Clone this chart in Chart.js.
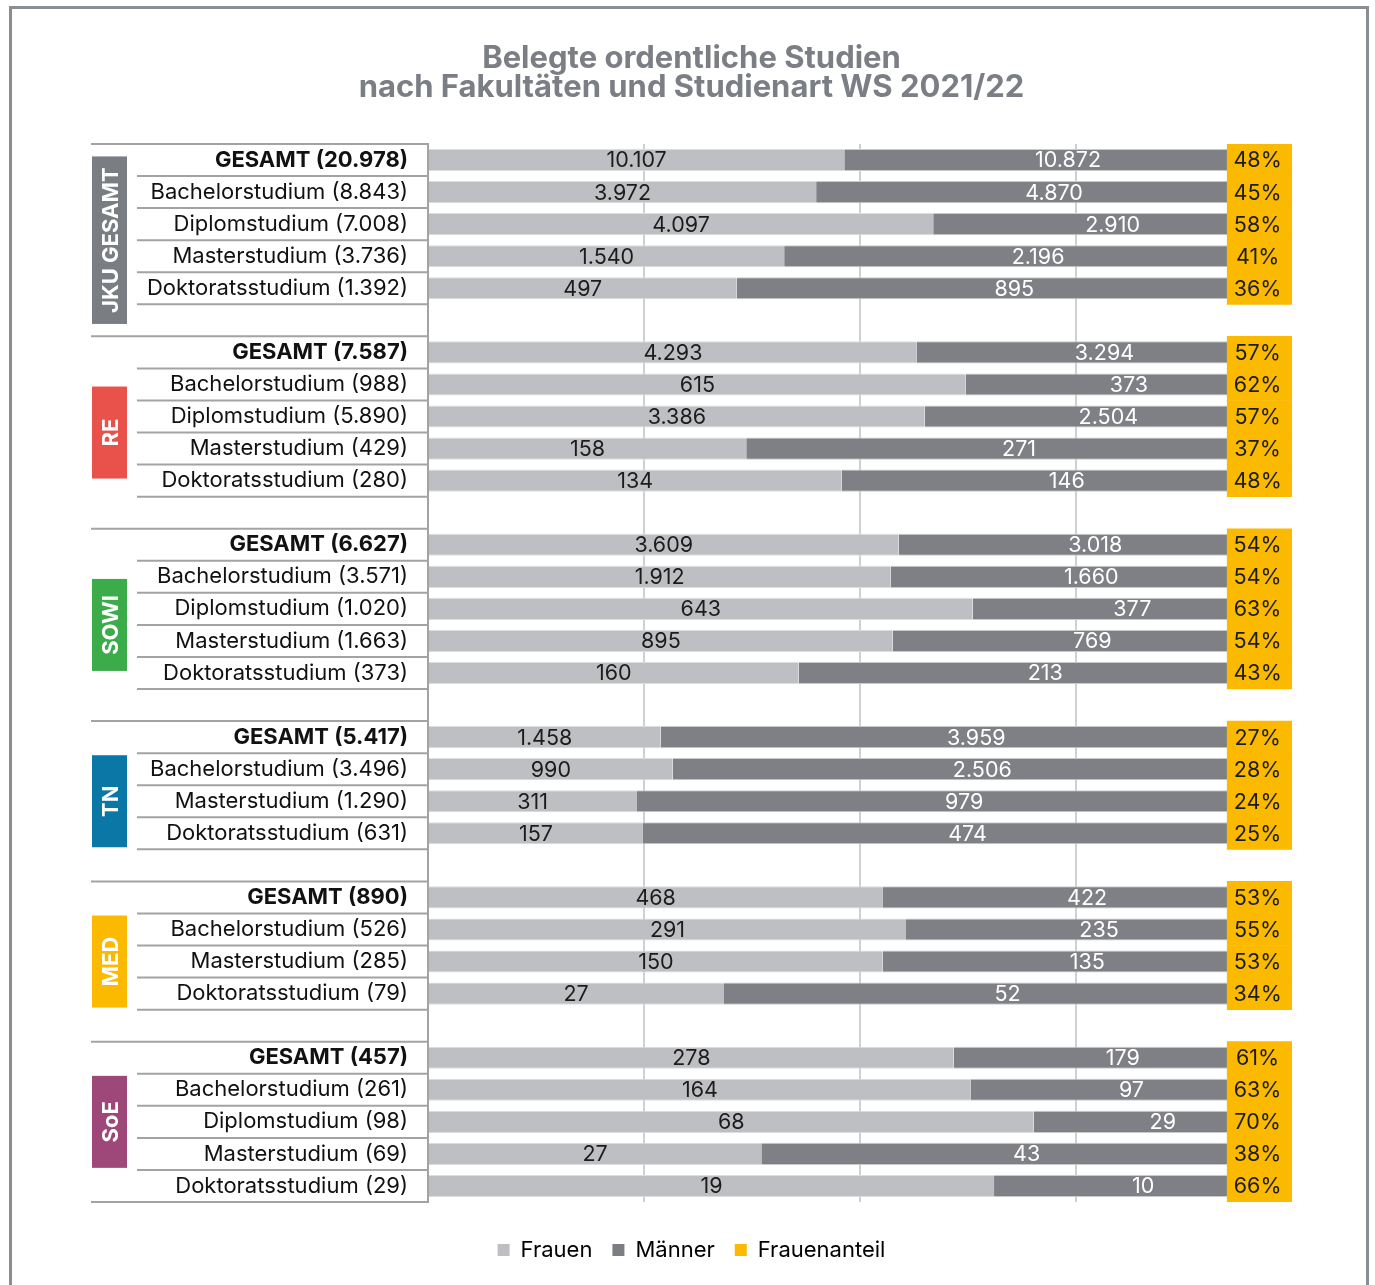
<!DOCTYPE html>
<html>
<head>
<meta charset="utf-8">
<script src="https://cdn.jsdelivr.net/npm/chart.js@4"></script>
<style>
  html, body { margin: 0; padding: 0; background: #fff; overflow: hidden; }
  #frame { position: absolute; left: 9px; top: 6px; width: 1354px; height: 1285px; border: 3px solid #8a8e93; border-bottom: none; }
  #wrap { position: absolute; left: 0; top: 0; width: 1375px; height: 1285px; }
</style>
</head>
<body>
<div id="frame"></div>
<div id="wrap"><canvas id="chart" width="1375" height="1285"></canvas></div>
<script>
// row labels ('' = spacer between faculties)
const rowLabels = [
  "GESAMT (20.978)", "Bachelorstudium (8.843)", "Diplomstudium (7.008)", "Masterstudium (3.736)", "Doktoratsstudium (1.392)", "",
  "GESAMT (7.587)", "Bachelorstudium (988)", "Diplomstudium (5.890)", "Masterstudium (429)", "Doktoratsstudium (280)", "",
  "GESAMT (6.627)", "Bachelorstudium (3.571)", "Diplomstudium (1.020)", "Masterstudium (1.663)", "Doktoratsstudium (373)", "",
  "GESAMT (5.417)", "Bachelorstudium (3.496)", "Masterstudium (1.290)", "Doktoratsstudium (631)", "",
  "GESAMT (890)", "Bachelorstudium (526)", "Masterstudium (285)", "Doktoratsstudium (79)", "",
  "GESAMT (457)", "Bachelorstudium (261)", "Diplomstudium (98)", "Masterstudium (69)", "Doktoratsstudium (29)"
];

const frauen = [
  10107, 3972, 4097, 1540, 497, null,
  4293, 615, 3386, 158, 134, null,
  3609, 1912, 643, 895, 160, null,
  1458, 990, 311, 157, null,
  468, 291, 150, 27, null,
  278, 164, 68, 27, 19
];

const maenner = [
  10872, 4870, 2910, 2196, 895, null,
  3294, 373, 2504, 271, 146, null,
  3018, 1660, 377, 769, 213, null,
  3959, 2506, 979, 474, null,
  422, 235, 135, 52, null,
  179, 97, 29, 43, 10
];

const frauenanteil = [
  48, 45, 58, 41, 36, null,
  57, 62, 57, 37, 48, null,
  54, 54, 63, 54, 43, null,
  27, 28, 24, 25, null,
  53, 55, 53, 34, null,
  61, 63, 70, 38, 66
];

const faculties = ["JKU GESAMT", "RE", "SOWI", "TN", "MED", "SoE"];
const facultyColors = ["#7a7e83", "#e8524a", "#3cab4a", "#0a77a6", "#fbb900", "#9d4878"];

const FONT = "Inter, 'Noto Sans', sans-serif";
const GREY_LIGHT = "#bebfc2";
const GREY_DARK = "#7f8085";
const YELLOW = "#fbb900";

const fmt = (v) => String(v).replace(/\B(?=(\d{3})+(?!\d))/g, ".");

const frauenPct = frauen.map((f, i) => (f == null ? null : (f / (f + maenner[i])) * 100));
const maennerPct = maenner.map((m, i) => (m == null ? null : (m / (frauen[i] + m)) * 100));
const anteilBox = frauenanteil.map((v) => (v == null ? null : [92.5, 100]));

// group start indices (rows after a spacer)
const groupStarts = rowLabels.reduce((acc, l, i) => {
  if (i === 0 || rowLabels[i - 1] === "") acc.push(i);
  return acc;
}, []);

const tablePlugin = {
  id: "table",
  afterDatasetsDraw(chart) {
    const { ctx } = chart;
    ctx.save();
    ctx.font = "400 21.5px " + FONT;
    ctx.textAlign = "center";
    ctx.textBaseline = "middle";
    const metaF = chart.getDatasetMeta(0);
    const metaM = chart.getDatasetMeta(1);
    const metaA = chart.getDatasetMeta(2);
    rowLabels.forEach((l, i) => {
      if (frauen[i] == null) return;
      const bf = metaF.data[i], bm = metaM.data[i], ba = metaA.data[i];
      ctx.fillStyle = "#1c1c1c";
      ctx.fillText(fmt(frauen[i]), (bf.x + bf.base) / 2, bf.y + 1);
      ctx.fillStyle = "#ffffff";
      ctx.fillText(fmt(maenner[i]), (bm.x + bm.base) / 2, bm.y + 1);
      ctx.fillStyle = "#1c1c1c";
      ctx.fillText(frauenanteil[i] + "%", (ba.x + ba.base) / 2 - 2, ba.y + 1);
    });
    ctx.restore();
  },
  afterDraw(chart) {
    const { ctx, scales: { y } } = chart;
    const left = chart.chartArea.left;
    const slot = y.getPixelForValue(1) - y.getPixelForValue(0);
    const edge = (i) => y.getPixelForValue(i) - slot / 2;
    const n = rowLabels.length;
    ctx.save();
    ctx.strokeStyle = "#a3a3a3";
    ctx.lineWidth = 2;
    const line = (x0, yy) => {
      ctx.beginPath();
      ctx.moveTo(x0, yy);
      ctx.lineTo(left, yy);
      ctx.stroke();
    };
    // short lines below each row
    rowLabels.forEach((l, i) => {
      if (l === "" || i === n - 1) return;
      line(137, edge(i + 1));
    });
    // faculty lines + boxes
    groupStarts.forEach((s, g) => {
      line(91, edge(s));
      const end = g + 1 < groupStarts.length ? groupStarts[g + 1] : n;
      const yc = (edge(s) + edge(end)) / 2;
      ctx.font = "700 22px " + FONT;
      const tw = ctx.measureText(faculties[g]).width;
      const h = Math.max(92, tw + 22);
      ctx.fillStyle = facultyColors[g];
      ctx.fillRect(92, yc - h / 2, 35, h);
      ctx.save();
      ctx.translate(110, yc);
      ctx.rotate(-Math.PI / 2);
      ctx.fillStyle = "#ffffff";
      ctx.textAlign = "center";
      ctx.textBaseline = "middle";
      ctx.fillText(faculties[g], 0, 1);
      ctx.restore();
    });
    line(91, edge(n));
    ctx.restore();
  }
};

const ctx = document.getElementById("chart").getContext("2d");

new Chart(ctx, {
  type: "bar",
  data: {
    labels: rowLabels,
    datasets: [
      {
        label: "Frauen",
        data: frauenPct,
        backgroundColor: GREY_LIGHT,
        borderColor: "#dcdddf",
        borderWidth: { top: 1, bottom: 1, left: 0, right: 0 },
        borderSkipped: false,
        stack: "a",
        barPercentage: 0.69,
        categoryPercentage: 1
      },
      {
        label: "Männer",
        data: maennerPct,
        backgroundColor: GREY_DARK,
        borderColor: "#c9cacc",
        borderWidth: { top: 1, bottom: 1, left: 0, right: 0 },
        borderSkipped: false,
        stack: "a",
        barPercentage: 0.69,
        categoryPercentage: 1
      },
      {
        label: "Frauenanteil",
        data: anteilBox,
        backgroundColor: YELLOW,
        stack: "b",
        grouped: false,
        order: -1,
        barPercentage: 1,
        categoryPercentage: 1
      }
    ]
  },
  options: {
    indexAxis: "y",
    responsive: false,
    animation: false,
    layout: { padding: { left: 91, right: 83, top: 44, bottom: 14 } },
    scales: {
      x: {
        stacked: true,
        min: 0,
        max: 100,
        ticks: { display: false, stepSize: 25 },
        grid: {
          drawTicks: false,
          lineWidth: 2,
          color: (c) => (c.tick && c.tick.value > 0 && c.tick.value < 100 ? "#cfd0d2" : "rgba(0,0,0,0)")
        },
        border: { display: false },
        afterFit: (s) => { s.height = 17; }
      },
      y: {
        stacked: true,
        grid: { display: false, drawTicks: false },
        border: { display: true, color: "#a3a3a3", width: 2 },
        ticks: {
          autoSkip: false,
          padding: 20,
          color: "#111111",
          font: (c) => ({
            family: FONT,
            size: 22,
            weight: String(rowLabels[c.index]).startsWith("GESAMT") ? "bold" : "normal"
          })
        },
        afterFit: (s) => { s.width = 337; }
      }
    },
    plugins: {
      title: {
        display: true,
        text: ["Belegte ordentliche Studien", "nach Fakultäten und Studienart WS 2021/22"],
        color: "#7b7f85",
        font: { family: FONT, size: 31, weight: "bold", lineHeight: "29px" },
        padding: { top: 0, bottom: 42 }
      },
      legend: {
        position: "bottom",
        labels: {
          color: "#1a1a1a",
          font: { family: FONT, size: 22 },
          boxWidth: 12,
          boxHeight: 12,
          padding: 20,
          generateLabels: () => [
            { text: "Frauen", fillStyle: GREY_LIGHT, lineWidth: 0, strokeStyle: GREY_LIGHT, datasetIndex: 0 },
            { text: "Männer", fillStyle: "#7b7f84", lineWidth: 0, strokeStyle: "#7b7f84", datasetIndex: 1 },
            { text: "Frauenanteil", fillStyle: YELLOW, lineWidth: 0, strokeStyle: YELLOW, datasetIndex: 2 }
          ]
        }
      },
      tooltip: { enabled: false }
    }
  },
  plugins: [tablePlugin]
});
</script>
</body>
</html>
